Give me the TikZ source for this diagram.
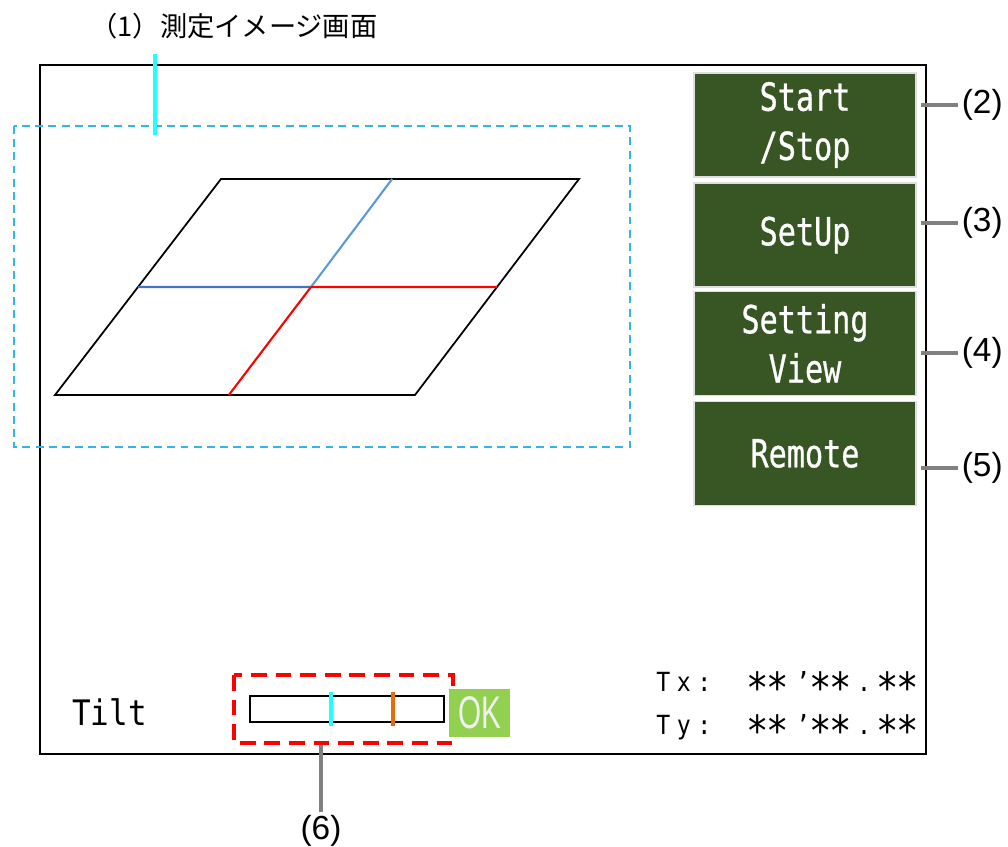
\documentclass[tikz,border=0pt]{standalone}
\usepackage{fontspec}
\setmainfont{Liberation Sans}
\newfontfamily\jpfont{Noto Sans CJK JP}
\newfontfamily\monofont[FakeStretch=0.88]{DejaVu Sans Mono}
\newfontfamily\btnfont[FakeStretch=0.78,FakeBold=0.8]{DejaVu Sans Mono}
\newfontfamily\okfont[FakeStretch=0.65]{Liberation Sans}
\usepackage{xcolor}
\usepackage{tikz}
\usetikzlibrary{calc}

\definecolor{btngreen}{HTML}{375623}
\definecolor{okgreen}{HTML}{92D050}
\definecolor{areablue}{HTML}{33B5E5}
\definecolor{gridblue}{HTML}{4472C4}
\definecolor{gridsky}{HTML}{5B9BD5}
\definecolor{markcyan}{HTML}{22FFFF}
\definecolor{markorange}{HTML}{E46C0A}
\definecolor{leadergray}{HTML}{808080}

% readout glyphs: one cell is 20.5px
\newcommand{\rcell}[1]{\makebox[0.41cm]{#1}}
\newcommand{\rstar}{\rcell{\raisebox{-0.12em}{\scalebox{1.6}{∗}}}}
\newcommand{\rpair}{\rstar\rstar}
\newcommand{\readout}[1]{\rcell{T}\rcell{#1}\rcell{:}\hspace{0.65cm}\rpair
  \makebox[0.44cm][r]{’}\rpair\makebox[0.52cm]{.}\rpair}

\begin{document}
\begin{tikzpicture}[x=0.02cm,y=-0.02cm,
  btn/.style={draw=gray!25, line width=0.8pt, fill=btngreen, text=white, align=center,
    font=\btnfont\fontsize{22}{28}\selectfont, minimum width=4.44cm, minimum height=2.08cm, inner sep=0pt},
  callout/.style={font=\fontsize{19}{22}\selectfont, inner sep=2pt},
  leader/.style={draw=leadergray, line width=2.2pt}]

\useasboundingbox (0,0) rectangle (1008,847);

% Draw screen frame
\draw[line width=1.2pt] (40,65) rectangle (926,754);

% Draw measurement image area
\draw[areablue, line width=0.9pt, dash pattern=on 4.5pt off 3pt] (14,126) rectangle (630,447);
\node[font=\jpfont\fontsize{15.5}{18}\selectfont] (lbl1) at (234,26) {（1）測定イメージ画面};
\coordinate (area1) at (155,135);
\coordinate (tip1) at (155,54);
\draw[markcyan, line width=2.4pt] (area1) -- (tip1);

% Draw tilted plane
\coordinate (pa) at (55,395);
\coordinate (pb) at (415,395);
\coordinate (pc) at (579,179);
\coordinate (pd) at (221,179);
\coordinate (mid) at (311,287);
\draw[line width=1pt] (pa) -- (pb) -- (pc) -- (pd) -- cycle;
\draw[gridblue, line width=1.2pt] ($(pa)!0.5!(pd)$) -- (mid);
\draw[gridsky, line width=1.2pt] (mid) -- ($(pd)!0.478!(pc)$);
\draw[red, line width=1.2pt] (mid) -- ($(pb)!0.5!(pc)$);
\draw[red, line width=1.2pt] (mid) -- ($(pa)!0.483!(pb)$);

% Draw buttons
\node[btn] (start) at (805,125) {Start\\/Stop};
\node[btn] (setup) at (805,235) {\raisebox{-3pt}{SetUp}};
\node[btn] (setting) at (805,343.5) {Setting\\View};
\node[btn] (remote) at (805,453.5) {\raisebox{-1pt}{Remote}};

% Callouts for buttons
\foreach \n/\y in {2/105,3/223,4/353,5/468} {
  \node[callout, anchor=west] (lbl\n) at (958,\y) {(\n)};
  \coordinate (tip\n) at (921,\y);
  \draw[leader] (tip\n) -- (lbl\n.west);
}

% Draw tilt indicator
\node[font=\monofont\fontsize{20}{24}\selectfont, anchor=west] (tilt) at (66,712) {Tilt};
\draw[line width=1.2pt] (250,696) rectangle (444,722);
\draw[markcyan, line width=2.2pt] (331,692) -- (331,726);
\draw[markorange, line width=2.2pt] (393,692) -- (393,726);
\draw[red, line width=2.2pt, dash pattern=on 9pt off 5pt] (234,675) rectangle (453,743);
\node[fill=okgreen, minimum width=1.22cm, minimum height=0.96cm, inner sep=0pt,
  text=white!94!black, font=\okfont\fontsize{26}{28}\selectfont] (ok) at (479.5,713) {OK};
\coordinate (zone6) at (321,745);
\node[callout] (lbl6) at (321,831) {(6)};
\draw[leader] (zone6) -- (lbl6.north);

% Tilt readout
\node[font=\monofont\fontsize{15}{18}\selectfont, anchor=west, inner sep=0pt] (tx) at (652.75,683) {\readout{x}};
\node[font=\monofont\fontsize{15}{18}\selectfont, anchor=west, inner sep=0pt] (ty) at (652.75,727) {\readout{y}};

\end{tikzpicture}
\end{document}
